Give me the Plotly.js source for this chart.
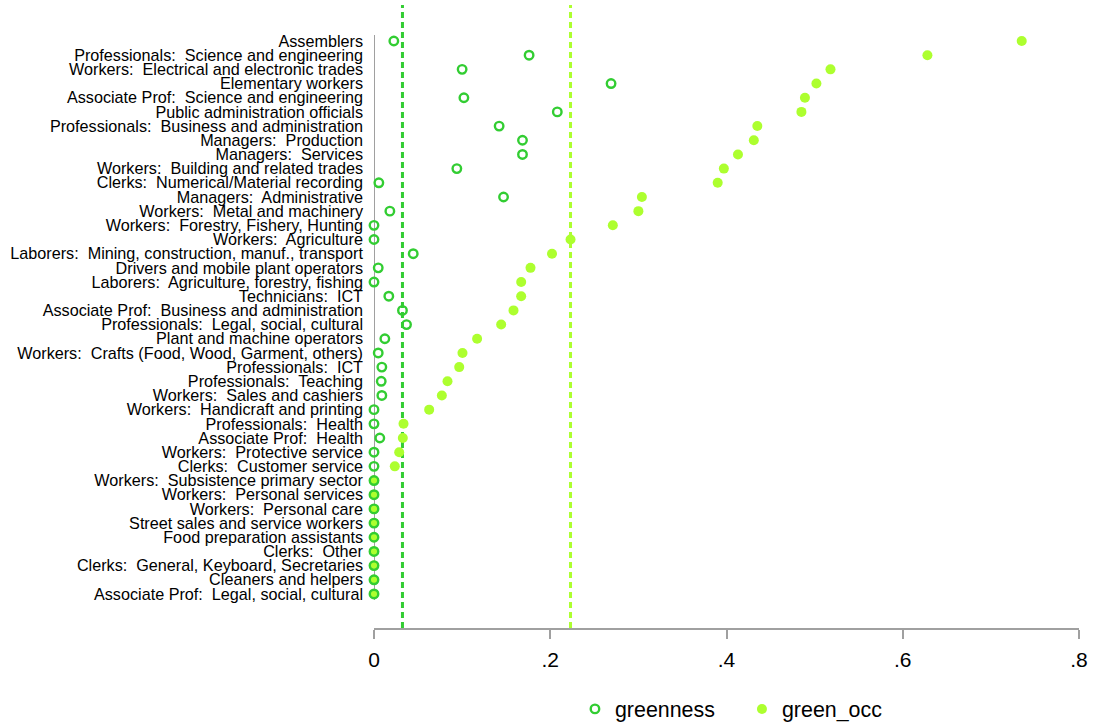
<!DOCTYPE html>
<html>
<head>
<meta charset="utf-8">
<script src="https://cdn.plot.ly/plotly-3.0.1.min.js"></script>
<style>html,body{margin:0;padding:0;background:#fff;}#chart{width:1096px;height:724px;}</style>
</head>
<body>
<div id="chart"></div>
<script>
const occupations = [
  "Assemblers",
  "Professionals:\u00a0 Science and engineering",
  "Workers:\u00a0 Electrical and electronic trades",
  "Elementary workers",
  "Associate Prof:\u00a0 Science and engineering",
  "Public administration officials",
  "Professionals:\u00a0 Business and administration",
  "Managers:\u00a0 Production",
  "Managers:\u00a0 Services",
  "Workers:\u00a0 Building and related trades",
  "Clerks:\u00a0 Numerical/Material recording",
  "Managers:\u00a0 Administrative",
  "Workers:\u00a0 Metal and machinery",
  "Workers:\u00a0 Forestry, Fishery, Hunting",
  "Workers:\u00a0 Agriculture",
  "Laborers:\u00a0 Mining, construction, manuf., transport",
  "Drivers and mobile plant operators",
  "Laborers:\u00a0 Agriculture, forestry, fishing",
  "Technicians:\u00a0 ICT",
  "Associate Prof:\u00a0 Business and administration",
  "Professionals:\u00a0 Legal, social, cultural",
  "Plant and machine operators",
  "Workers:\u00a0 Crafts (Food, Wood, Garment, others)",
  "Professionals:\u00a0 ICT",
  "Professionals:\u00a0 Teaching",
  "Workers:\u00a0 Sales and cashiers",
  "Workers:\u00a0 Handicraft and printing",
  "Professionals:\u00a0 Health",
  "Associate Prof:\u00a0 Health",
  "Workers:\u00a0 Protective service",
  "Clerks:\u00a0 Customer service",
  "Workers:\u00a0 Subsistence primary sector",
  "Workers:\u00a0 Personal services",
  "Workers:\u00a0 Personal care",
  "Street sales and service workers",
  "Food preparation assistants",
  "Clerks:\u00a0 Other",
  "Clerks:\u00a0 General, Keyboard, Secretaries",
  "Cleaners and helpers",
  "Associate Prof:\u00a0 Legal, social, cultural"
];

const greenness = [
  0.0225, 0.176, 0.100, 0.269, 0.102, 0.208, 0.142, 0.1685, 0.1685, 0.094,
  0.0055, 0.147, 0.018, 0.0, 0.0, 0.0445, 0.0048, 0.0, 0.0168, 0.0323,
  0.0369, 0.0123, 0.0048, 0.0089, 0.0082, 0.0089, 0.0, 0.0, 0.0066, 0.0,
  0.0, 0.0, 0.0, 0.0, 0.0, 0.0, 0.0, 0.0, 0.0, 0.0
];

const green_occ = [
  0.735, 0.628, 0.518, 0.502, 0.489, 0.485, 0.435, 0.431, 0.413, 0.397,
  0.390, 0.304, 0.300, 0.271, 0.223, 0.202, 0.1776, 0.167, 0.167, 0.1583,
  0.1443, 0.117, 0.1004, 0.0967, 0.0834, 0.077, 0.0626, 0.0335, 0.0327, 0.0286,
  0.0236, 0.0, 0.0, 0.0, 0.0, 0.0, 0.0, 0.0, 0.0, 0.0
];

const meanLines = [0.0323, 0.223];   // greenness mean, green_occ mean
const xTickVals = [0, 0.2, 0.4, 0.6, 0.8];
const xTickText = ["0", ".2", ".4", ".6", ".8"];

const COL_DARK = "#32cd32";
const COL_LIGHT = "#adff2f";
const FONT = "Liberation Sans, Arial, sans-serif";

const traces = [
  {
    type: "scatter", mode: "markers", name: "green_occ",
    x: green_occ, y: occupations,
    marker: {symbol: "circle", size: 10, color: COL_LIGHT, line: {width: 0}},
    cliponaxis: false
  },
  {
    type: "scatter", mode: "markers", name: "greenness",
    x: greenness, y: occupations,
    marker: {symbol: "circle-open", size: 8.5, color: COL_DARK, line: {width: 2.4, color: COL_DARK}},
    cliponaxis: false
  }
];

const n = occupations.length;
const yTop = -2.54, yBot = n - 1 + 2.40;
const yPaper = v => (yBot - v) / (yBot - yTop);

const layout = {
  width: 1096, height: 724,
  margin: {l: 374, r: 17, t: 5, b: 96, pad: 0},
  paper_bgcolor: "#fff", plot_bgcolor: "#fff",
  font: {family: FONT, color: "#000"},
  showlegend: true,
  legend: {
    orientation: "h", xref: "container", yref: "container",
    x: 0.5246, xanchor: "left", y: 0.0207, yanchor: "middle",
    traceorder: "reversed", font: {size: 21.4, family: FONT, color: "#000"},
    entrywidth: 122, entrywidthmode: "pixels",
    itemsizing: "trace"
  },
  xaxis: {
    range: [0, 0.8], autorange: false, automargin: false,
    tickmode: "array", tickvals: xTickVals, ticktext: xTickText,
    showgrid: false, zeroline: false,
    showline: true, linecolor: "#a0a0a0", linewidth: 2,
    ticks: "outside", ticklen: 9, tickwidth: 2, tickcolor: "#a0a0a0",
    ticklabelstandoff: 3,
    tickfont: {size: 21, family: FONT, color: "#000"}
  },
  yaxis: {
    type: "category", categoryorder: "array", categoryarray: occupations,
    tickmode: "array", tickvals: occupations, ticktext: occupations,
    range: [yBot, yTop], autorange: false, automargin: false,
    showgrid: false, zeroline: false, showline: false, ticks: "",
    ticklabelstandoff: 10,
    tickfont: {size: 16.2, family: FONT, color: "#000"}
  },
  shapes: [
    {type: "line", xref: "x", yref: "paper", x0: 0, x1: 0, y0: yPaper(-0.42), y1: yPaper(n - 1 + 0.42),
     line: {color: "#a0a0a0", width: 2}, layer: "below"},
    {type: "line", xref: "x", yref: "paper", x0: meanLines[0], x1: meanLines[0], y0: 0, y1: 1,
     line: {color: COL_DARK, width: 3, dash: "6px,4px"}, layer: "below"},
    {type: "line", xref: "x", yref: "paper", x0: meanLines[1], x1: meanLines[1], y0: 0, y1: 1,
     line: {color: COL_LIGHT, width: 3, dash: "6px,4px"}, layer: "below"}
  ]
};

Plotly.newPlot("chart", traces, layout, {displayModeBar: false, staticPlot: true});
</script>
</body>
</html>
